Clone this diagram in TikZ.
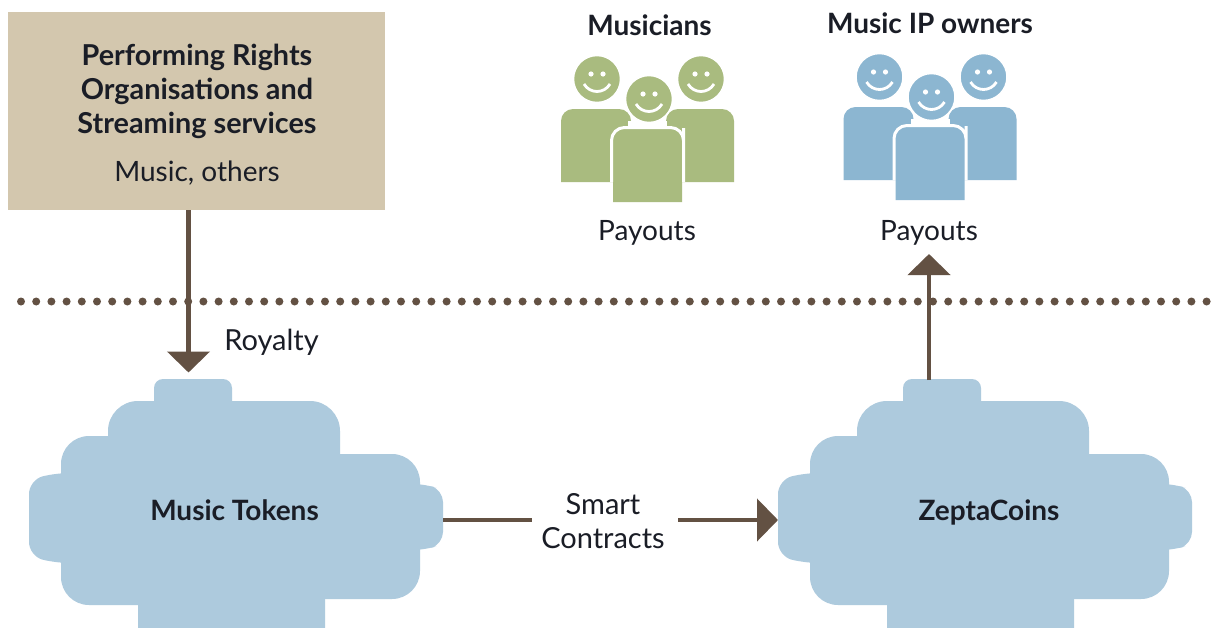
\documentclass[tikz,border=0pt]{standalone}
\usepackage{fontspec}
\setmainfont{Lato}
\usetikzlibrary{arrows.meta}
\definecolor{tan}{HTML}{D3C7AE}
\definecolor{cloudblue}{HTML}{ADCADD}
\definecolor{arrowbrown}{HTML}{635143}
\definecolor{peoplegreen}{HTML}{A9BB7F}
\definecolor{peopleblue}{HTML}{8CB6D1}
\definecolor{inkdark}{HTML}{1A1D26}
\tikzset{
  x=1pt,y=-1pt,
  label text/.style={font=\fontsize{28}{34}\selectfont,text=inkdark,inner sep=0pt,align=center},
  large label/.style={font=\fontsize{29}{34}\selectfont,text=inkdark,inner sep=0pt,align=center},
  head text/.style={font=\fontsize{28}{34}\selectfont\bfseries,text=inkdark,inner sep=0pt,align=center},
  large head/.style={font=\fontsize{28.8}{34}\selectfont\bfseries,text=inkdark,inner sep=0pt,align=center},
  link/.style={draw=arrowbrown,line width=4.5pt},
  link tip/.style={link,-{Triangle[length=21pt,width=42pt]}},
  pics/smile head/.style={code={
    \fill[#1,draw=white,line width=1.5pt] (0,0) circle[radius=23.5];
    \fill[white] (-6,-5) circle[radius=2.6] (6,-5) circle[radius=2.6];
    \draw[white,line width=2.8pt] (-13,5) .. controls (-7,15) and (7,15) .. (13,5);
  }},
  pics/people/.style={code={
    \fill[#1,rounded corners=12pt] (0,73) [sharp corners] -- (0,40) [rounded corners=12pt] -- (0,0) -- (70,0) -- (70,40) [sharp corners] -- (70,73) -- cycle;
    \fill[#1,rounded corners=12pt] (173,73) [sharp corners] -- (173,40) [rounded corners=12pt] -- (173,0) -- (105,0) -- (105,40) [sharp corners] -- (105,73) -- cycle;
    \pic at (36,-30) {smile head=#1};
    \pic at (140,-30) {smile head=#1};
    \fill[white] (70,0) ++(-3,12) rectangle (106,24);
    \pic at (88,-10) {smile head=#1};
    \fill[#1] (52,93) -- (52,32) [rounded corners=12pt] -- (52,20) -- (121,20) -- (121,32) [sharp corners] -- (121,93) -- cycle;
    \draw[white,line width=3pt] (50.5,73) -- (50.5,32) [rounded corners=13pt] -- (50.5,18.5) -- (122.5,18.5) -- (122.5,32) [sharp corners] -- (122.5,73);
  }},
  pics/blob/.style={code={
    \fill[cloudblue,rounded corners=9pt] (154,379) rectangle (232,430);
    \fill[cloudblue,rounded corners=30pt] (108,401) rectangle (340,520);
    \fill[cloudblue,rounded corners=28pt] (61,436) rectangle (300,605);
    \fill[cloudblue,rounded corners=28pt] (180,454) rectangle (420,599);
    \fill[cloudblue,rounded corners=14pt] (110,473) -- (55,473) -- (29,480) -- (29,556) -- (55,563) -- (110,563) -- cycle;
    \fill[cloudblue,rounded corners=12pt] (380,484) -- (425,484) -- (443,490) -- (443,544) -- (425,550) -- (380,550) -- cycle;
    \fill[cloudblue,rounded corners=14pt] (138,520) rectangle (325,650);
  }}
}
\begin{document}
\begin{tikzpicture}
\useasboundingbox (0,0) rectangle (1212,627);
\fill[white] (0,0) rectangle (1212,627);
% clouds
\begin{scope}
  \clip (0,0) rectangle (1212,627);
  \pic at (0,0) {blob};
  \pic at (749,0) {blob};
\end{scope}
\node[head text] (tokens) at (234.5,510) {Music Tokens};
\node[head text] (zepta) at (989,512) {ZeptaCoins};
\coordinate (tokensTop) at (188.5,379);
\coordinate (tokensRight) at (443,520);
\coordinate (zeptaLeft) at (778,520);
\coordinate (zeptaTop) at (929,380);
\coordinate (royaltyTip) at (188.5,372.5);
\coordinate (ownersTip) at (929,254);
% rights box
\node[fill=tan,minimum width=377pt,minimum height=198pt,inner sep=0pt,anchor=north west] (rights) at (8,12) {};
\node[large head] (rightsText) at (197,91) {Performing Rights\\Organisations and\\Streaming services};
\node[label text] (rightsSub) at (197,173) {Music, others};
% people
\pic at (561,109) {people=peoplegreen};
\pic at (843.5,107) {people=peopleblue};
\node[head text] (musicians) at (649.5,25) {Musicians};
\node[head text] (owners) at (930,23) {Music IP owners};
\node[label text] (pay1) at (647,233) {Payouts};
\node[label text] (pay2) at (929,233) {Payouts};
% separator
\coordinate (sepL) at (21,301.5);
\coordinate (sepR) at (1212,301.5);
\draw[arrowbrown,line width=8pt,line cap=round,dash pattern=on 0pt off 15.2pt] (sepL) -- (sepR);
% connectors
\node[large label] (royalty) at (271.5,342) {Royalty};
\node[large label] (smart) at (603,521) {Smart\\Contracts};
\coordinate (gapL) at (532,520);
\coordinate (gapR) at (678,520);
\draw[link tip] (rights.south -| tokensTop) -- (royaltyTip);
\draw[link] (tokensRight) -- (gapL);
\draw[link tip] (gapR) -- (zeptaLeft);
\draw[link tip] (zeptaTop) -- (ownersTip);
\end{tikzpicture}
\end{document}
